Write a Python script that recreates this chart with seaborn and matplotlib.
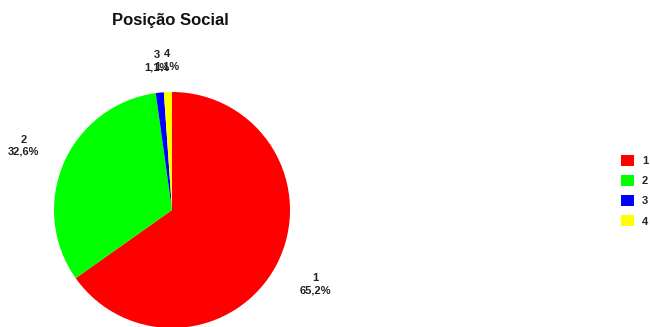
import matplotlib
matplotlib.use("Agg")
import matplotlib.pyplot as plt
import seaborn as sns
from matplotlib.patches import Patch

categorias = ["1", "2", "3", "4"]
percentuais = [65.2, 32.6, 1.1, 1.1]
cores = ["#FF0000", "#00FF00", "#0000FF", "#FFFF00"]
titulo = "Posição Social"

sns.set_theme(style="white")
plt.rcParams["font.family"] = ["Liberation Sans", "DejaVu Sans"]

fig = plt.figure(figsize=(6.5, 3.27), dpi=100)
# eixo quadrado para a pizza (centro ~ (172,210) px, raio ~118 px)
ax = fig.add_axes([54 / 650, -1 / 327, 236 / 650, 236 / 327])

rotulos = [f"{c}\n{p:.1f}%".replace(".", ",") for c, p in zip(categorias, percentuais)]
fatias, textos = ax.pie(percentuais, colors=cores, startangle=90, counterclock=False,
                        labels=rotulos, labeldistance=1.37,
                        wedgeprops=dict(linewidth=0),
                        textprops=dict(fontsize=8, fontweight="bold", color="#222222"))
for t, p in zip(textos, percentuais):
    t.set_ha("center")
    t.set_va("center")
    t.set_multialignment("center")
    t.set_linespacing(1.3)
    if p < 5:
        # fatias pequenas: rótulos mais próximos da pizza
        x, y = t.get_position()
        t.set_position((x * 1.27 / 1.37, y * 1.27 / 1.37))
ax.set_xlim(-1, 1)
ax.set_ylim(-1, 1)
ax.set_aspect("equal")
ax.axis("off")

fig.text(170 / 650, 1 - 20 / 327, titulo, ha="center", va="center",
         fontsize=12, fontweight="bold", color="#111111")

alcas = [Patch(facecolor=c, edgecolor="none") for c in cores]
leg = fig.legend(alcas, categorias, loc="center left", bbox_to_anchor=(0.94, 0.417),
                 frameon=False, handlelength=1.2, handleheight=1.2, handletextpad=0.7,
                 labelspacing=0.78, prop=dict(size=8, weight="bold"))

fig.savefig("out.png", dpi=100, facecolor="white")
